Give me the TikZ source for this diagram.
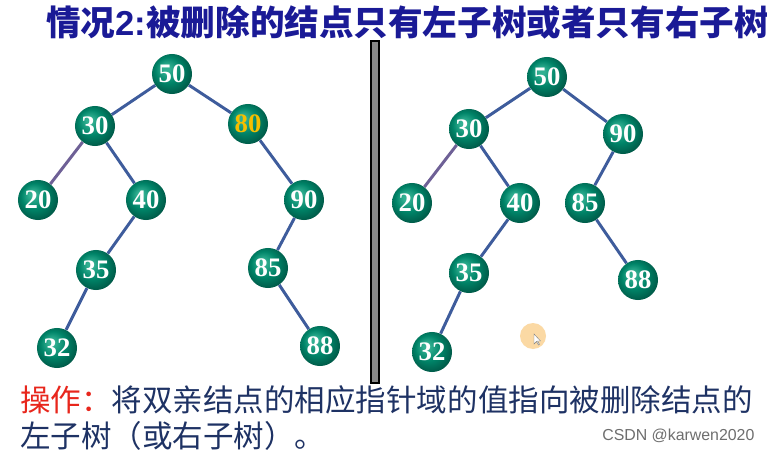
\documentclass[tikz,border=0pt]{standalone}
\usepackage{fontspec}
\usepackage{xcolor}
\usepackage{tikz}
\setmainfont{Liberation Serif}
\newfontfamily\cjk{Noto Sans CJK SC}
\newfontfamily\arialfont{Liberation Sans}
\definecolor{titleblue}{RGB}{26,26,150}
\definecolor{textblue}{RGB}{30,50,100}
\definecolor{opred}{RGB}{232,38,28}
\definecolor{edgeblue}{RGB}{62,92,156}
\definecolor{edgepurple}{RGB}{110,96,150}
\definecolor{ballhi}{RGB}{50,176,146}
\definecolor{ballmid}{RGB}{0,132,104}
\definecolor{balldark}{RGB}{0,82,66}
\definecolor{gold80}{RGB}{245,190,0}
\definecolor{bargray}{RGB}{136,136,136}
\definecolor{markgray}{RGB}{110,110,110}
\definecolor{cursorpeach}{RGB}{251,217,164}
\pgfdeclareradialshading{tealball}{\pgfqpoint{-8bp}{8bp}}{color(0bp)=(ballhi); color(4bp)=(ballhi); color(16bp)=(ballmid); color(30bp)=(balldark); color(40bp)=(balldark)}

\begin{document}
\begin{tikzpicture}[x=0.025cm,y=-0.025cm,
  ball/.style={circle,shading=tealball,minimum size=1cm,inner sep=0pt,text=white,
    font=\bfseries\fontsize{19}{19}\selectfont},
  link/.style={draw=edgeblue,line width=2.1pt}]
\fill[white] (0,0) rectangle (767,452);
\useasboundingbox (0,0) rectangle (767,452);
\node[anchor=west,inner sep=0pt,text=titleblue,font=\cjk\bfseries\fontsize{24.6}{25}\selectfont] (title) at (46,22)
  {情况{\arialfont\bfseries 2:}被删除的结点只有左子树或者只有右子树};
%
% before: 80 is deleted
\node[ball] (l50) at (172,74) {50};
\node[ball] (l30) at (95,126) {30};
\node[ball,text=gold80] (l80) at (248,124) {80};
\node[ball] (l20) at (38,200) {20};
\node[ball] (l40) at (146,200) {40};
\node[ball] (l90) at (304,200) {90};
\node[ball] (l35) at (96,270) {35};
\node[ball] (l85) at (268,268) {85};
\node[ball] (l32) at (57,348) {32};
\node[ball] (l88) at (320,346) {88};
\draw[link] (l50) -- (l30);
\draw[link] (l50) -- (l80);
\draw[link,draw=edgepurple] (l30) -- (l20);
\draw[link] (l30) -- (l40);
\draw[link] (l40) -- (l35);
\draw[link] (l35) -- (l32);
\draw[link] (l80) -- (l90);
\draw[link] (l90) -- (l85);
\draw[link] (l85) -- (l88);
%
\draw[fill=bargray,line width=0.8pt] (371,41) rectangle (379,383);
%
% after
\node[ball] (r50) at (547,77) {50};
\node[ball] (r30) at (469,129) {30};
\node[ball] (r90) at (623,134) {90};
\node[ball] (r20) at (412,203) {20};
\node[ball] (r40) at (520,203) {40};
\node[ball] (r85) at (585,203) {85};
\node[ball] (r35) at (469,273) {35};
\node[ball] (r88) at (638,280) {88};
\node[ball] (r32) at (432,352) {32};
\draw[link] (r50) -- (r30);
\draw[link] (r50) -- (r90);
\draw[link,draw=edgepurple] (r30) -- (r20);
\draw[link] (r30) -- (r40);
\draw[link] (r40) -- (r35);
\draw[link] (r35) -- (r32);
\draw[link] (r90) -- (r85);
\draw[link] (r85) -- (r88);
%
\fill[cursorpeach] (533,336) circle (13);
\draw[fill=white,draw=gray,line width=0.3pt] (534,334) -- (534,344) -- (536.5,341.5) -- (538.5,345) -- (539.5,344.3) -- (537.5,341) -- (540.5,341) -- cycle;
%
\node[anchor=west,inner sep=0pt,text=textblue,font=\cjk\fontsize{21.7}{22}\selectfont] (op1) at (20,400)
  {\textcolor{opred}{操作：}将双亲结点的相应指针域的值指向被删除结点的};
\node[anchor=west,inner sep=0pt,text=textblue,font=\cjk\fontsize{21.7}{22}\selectfont] (op2) at (20,436)
  {左子树（或右子树）。};
\node[anchor=west,inner sep=0pt,text=markgray,font=\arialfont\fontsize{11.3}{12}\selectfont] (mark) at (602,436)
  {CSDN @karwen2020};
\end{tikzpicture}
\end{document}
